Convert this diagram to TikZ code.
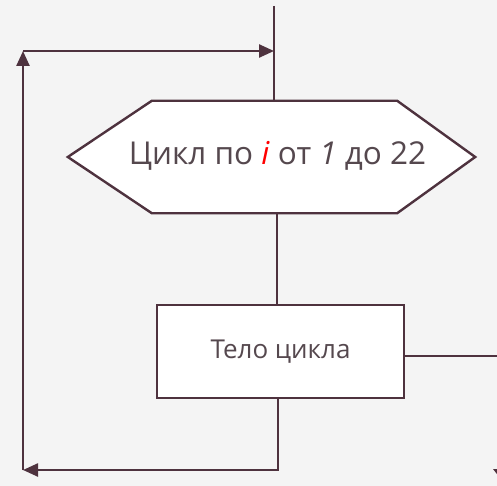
\documentclass[tikz,border=0pt]{standalone}
\usepackage{fontspec}
\setmainfont{Open Sans}
\usetikzlibrary{arrows.meta,calc}
\definecolor{linec}{RGB}{78,50,62}
\definecolor{textc}{RGB}{85,72,78}
\definecolor{bgc}{RGB}{244,244,244}
\tikzset{
  conn/.style={draw=linec, line width=2.4pt},
  arr/.style={conn, -{Triangle[length=15pt,width=13pt]}},
  boxshape/.style={draw=linec, line width=2.4pt, fill=white, minimum width=247pt, minimum height=93pt, inner sep=0pt, font=\fontsize{26}{31}\selectfont, text=textc},
  hextext/.style={inner sep=0pt, minimum width=407pt, minimum height=112pt, font=\fontsize{31.5}{37}\selectfont, text=textc}
}
\begin{document}
\begin{tikzpicture}[x=1pt,y=-1pt]
\useasboundingbox (0,0) rectangle (497,486);
\fill[bgc] (0,0) rectangle (497,486);
% top incoming line
\coordinate (top) at (274,6);
\coordinate (hexn) at (274,101);
\draw[conn] (top) -- (hexn);
% hexagon
\node[hextext] (hex) at (271.5,157) {};
\draw[conn, fill=white, line join=miter]
  (hex.west) -- ($(hex.north west)+(84,0)$) -- ($(hex.north east)+(-78,0)$) -- (hex.east)
  -- ($(hex.south east)+(-78,0)$) -- ($(hex.south west)+(84,0)$) -- cycle;
\node[hextext, minimum width=0pt, minimum height=0pt] (hexlabel) at (277.5,156) {Цикл по \textcolor{red}{\textit{i}} от \textit{1} до 22};
% body
\node[boxshape] (body) at (280.5,351.5) {Тело цикла};
\coordinate (hexs) at (277,213);
\draw[conn] (hexs) -- (body.north -| hexs);
\coordinate (exit) at (497,356);
\draw[conn] (body.east |- exit) -- (exit);
% loop back
\coordinate (bl) at (23,470);
\coordinate (tl) at (23,51);
\coordinate (tr) at (274,51);
\draw[arr] (body.south -| 278,0) |- (bl);
\draw[arr] (bl) -- (tl);
\draw[arr] (tl) -- (tr);
% cut-off arrow tip at the lower right edge
\begin{scope}
\clip (0,0) rectangle (497,486);
\fill[linec] (493,469) -- (507,469) -- (500,478) -- cycle;
\end{scope}
\end{tikzpicture}
\end{document}
